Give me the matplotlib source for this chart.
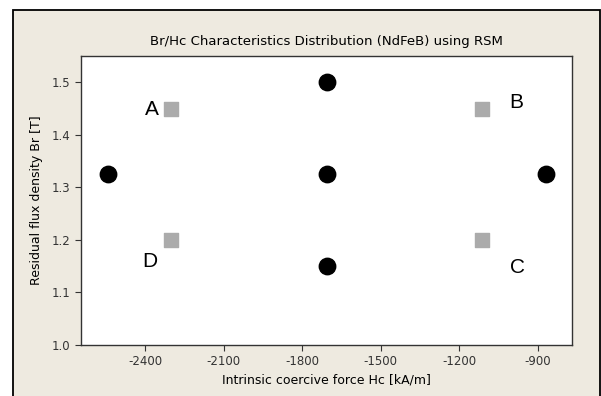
import numpy as np
import matplotlib
matplotlib.use("Agg")
import matplotlib.pyplot as plt
from matplotlib.patches import Rectangle

# RSM design points (central composite design)
axial_hc = [-2543, -1706, -1706, -1706, -869]
axial_br = [1.325, 1.5, 1.325, 1.15, 1.325]

corner_hc = [-2300, -1115, -1115, -2300]
corner_br = [1.45, 1.45, 1.2, 1.2]
corner_names = ["A", "B", "C", "D"]
label_hc = [-2374, -984, -980, -2382]
label_br = [1.449, 1.461, 1.147, 1.158]

xticks = [-2400, -2100, -1800, -1500, -1200, -900]
yticks = [1.0, 1.1, 1.2, 1.3, 1.4, 1.5]

W, H = 601, 396
fig = plt.figure(figsize=(W / 100, H / 100), dpi=100, facecolor="white")

# panel background with border
fig.patches.append(Rectangle((13 / W, -0.05), (600 - 13) / W, 1.05 - 9.5 / H,
                             transform=fig.transFigure, facecolor="#EEEAE0",
                             edgecolor="black", linewidth=1.3, zorder=-5))

ax = fig.add_axes([80.7 / W, 1 - 345 / H, (572.3 - 80.7) / W, (345 - 56) / H])
ax.set_zorder(2)
ax.set_facecolor("white")

ax.scatter(axial_hc, axial_br, s=140, color="black", marker="o", zorder=3)
ax.scatter(corner_hc, corner_br, s=95, color="#ABABAB", marker="s", zorder=3)
for name, x, y in zip(corner_names, label_hc, label_br):
    ax.text(x, y, name, fontsize=15, ha="center", va="center", color="black",
            family="Liberation Sans")

ax.set_xlim(-2646, -769)
ax.set_ylim(1.0, 1.55)
ax.set_xticks(xticks)
ax.set_xticklabels([str(t) for t in xticks])
ax.set_yticks(yticks)
ax.set_yticklabels([f"{t:.1f}" for t in yticks])
ax.tick_params(direction="out", length=4, width=0.8, color="#333333",
               labelcolor="#333333", labelsize=8.5)
for s in ax.spines.values():
    s.set_color("#333333")
    s.set_linewidth(1.0)

ax.set_xlabel("Intrinsic coercive force Hc [kA/m]", fontsize=9, labelpad=4)
ax.set_ylabel("Residual flux density Br [T]", fontsize=9, labelpad=6)
fig.text(326 / W, 1 - 41 / H, "Br/Hc Characteristics Distribution (NdFeB) using RSM",
         ha="center", va="center", fontsize=9.5)

fig.savefig("out.png", dpi=100, facecolor=fig.get_facecolor())
